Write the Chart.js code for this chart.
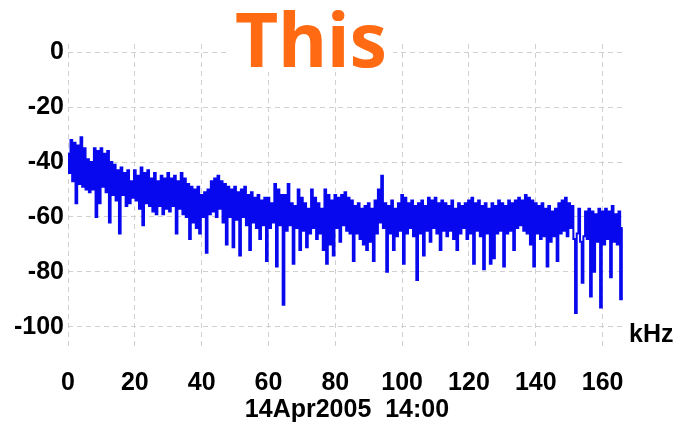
<!DOCTYPE html>
<html>
<head>
<meta charset="utf-8">
<script src="https://cdn.jsdelivr.net/npm/chart.js@4/dist/chart.umd.min.js"></script>
<style>
    html, body { margin: 0; padding: 0; background: #fff; }
    #wrap { width: 679px; height: 426px; }
</style>
</head>
<body>
<div id="wrap"><canvas id="spectrum"></canvas></div>
<script>
const titleText = 'This';
const dateText = '14Apr2005  14:00';
const unitText = 'kHz';

const binKHz = 0.5; // spacing of the spectrum bins
const xTicks = [0, 20, 40, 60, 80, 100, 120, 140, 160];
const yTicks = [-100, -90, -80, -70, -60, -50, -40, -30, -20, -10, 0];

// level in dB, one value per bin, split in 20 kHz blocks
const levels0to20 = [-37, -44, -32, -47, -33, -55, -34, -48, -31, -49, -35, -50, -39, -51, -40, -50, -35, -60, -36, -55,
    -35, -49, -37, -51, -36, -62, -40, -52, -41, -54, -43, -66, -42, -52, -44, -56, -43, -55, -47, -53];
const levels20to40 = [-43, -54, -45, -57, -42, -63, -44, -55, -43, -56, -46, -58, -44, -59, -47, -56, -45, -59, -46, -57,
    -44, -58, -46, -56, -45, -66, -47, -57, -44, -59, -46, -60, -48, -68, -49, -62, -50, -64, -49, -66];
const levels40to60 = [-52, -60, -51, -73, -50, -59, -47, -58, -46, -60, -45, -57, -47, -62, -48, -70, -49, -60, -50, -71,
    -49, -61, -51, -74, -50, -60, -49, -63, -52, -72, -51, -62, -53, -64, -52, -68, -54, -63, -53, -76];
const levels60to80 = [-53, -64, -55, -62, -48, -78, -50, -63, -52, -92, -52, -65, -48, -63, -55, -77, -56, -64, -50, -72,
    -53, -65, -55, -71, -57, -66, -50, -64, -53, -68, -55, -66, -57, -72, -50, -77, -52, -70, -54, -74];
const levels80to100 = [-52, -64, -53, -69, -52, -63, -51, -65, -53, -66, -54, -76, -56, -66, -55, -68, -57, -70, -56, -72,
    -55, -69, -57, -76, -54, -66, -50, -62, -45, -64, -55, -80, -56, -66, -54, -72, -57, -67, -55, -65];
const levels100to120 = [-52, -77, -53, -66, -55, -64, -54, -67, -56, -83, -55, -66, -54, -74, -56, -65, -53, -69, -54, -64,
    -53, -66, -55, -72, -54, -65, -55, -67, -56, -65, -54, -68, -57, -72, -55, -66, -56, -64, -55, -68];
const levels120to140 = [-54, -66, -53, -77, -55, -65, -54, -67, -56, -79, -55, -66, -57, -77, -55, -75, -56, -66, -54, -65,
    -55, -78, -56, -66, -54, -65, -55, -72, -54, -64, -53, -63, -54, -65, -52, -66, -53, -70, -54, -78];
const levels140to160 = [-55, -66, -56, -68, -55, -67, -57, -78, -56, -69, -58, -67, -57, -76, -55, -66, -54, -65, -53, -67,
    -55, -64, -56, -68, -95, -66, -57, -69, -84, -67, -58, -68, -57, -89, -58, -80, -59, -69, -57, -93];
const levels160to166 = [-58, -70, -57, -68, -58, -82, -56, -69, -59, -70, -58, -90, -64];

const levels = [].concat(levels0to20, levels20to40, levels40to60, levels60to80, levels80to100,
    levels100to120, levels120to140, levels140to160, levels160to166);
const points = levels.map((db, i) => ({ x: i * binKHz, y: db }));

const labelFont = { family: '"Liberation Sans", Arial, sans-serif', size: 25, weight: 'bold' };
const gridColor = 'rgb(208,208,208)';

// big orange heading plus the unit label right of the plot
const extraText = {
    id: 'extraText',
    afterDraw(chart) {
        const ctx = chart.ctx;
        const area = chart.chartArea;
        const yScale = chart.scales.y;
        ctx.save();

        ctx.font = 'bold 75px "Noto Sans", sans-serif';
        const w = ctx.measureText(titleText).width;
        const cx = 311, base = 67;
        ctx.fillStyle = '#fff';
        ctx.fillRect(cx - w / 2 - 6, 0, w + 12, base + 5);
        ctx.fillStyle = '#ff6a12';
        ctx.textAlign = 'center';
        ctx.textBaseline = 'alphabetic';
        ctx.fillText(titleText, cx, base);

        ctx.font = 'bold 25px "Liberation Sans", Arial, sans-serif';
        ctx.fillStyle = '#000';
        ctx.textAlign = 'left';
        ctx.fillText(unitText, area.right + 3, yScale.getPixelForValue(-100) + 15);
        ctx.restore();
    }
};

new Chart(document.getElementById('spectrum'), {
    type: 'line',
    data: {
        datasets: [{
            data: points,
            borderColor: '#0808ee',
            borderWidth: 2,
            pointRadius: 0,
            stepped: 'middle', // analyser-style bins: flat tops joined by vertical edges
            fill: false
        }]
    },
    options: {
        responsive: true,
        maintainAspectRatio: false,
        animation: false,
        layout: { padding: { left: 0, right: 53, top: 44, bottom: 0 } },
        plugins: { legend: { display: false }, tooltip: { enabled: false } },
        scales: {
            x: {
                type: 'linear',
                min: 0,
                max: 167,
                afterBuildTicks: s => { s.ticks = xTicks.map(v => ({ value: v })); },
                afterFit: s => { s.height = 80; },
                grid: { color: gridColor, lineWidth: 1, drawTicks: false },
                border: { display: false, dash: [5, 4] },
                ticks: { color: '#000', font: labelFont, padding: 22, maxRotation: 0 },
                title: { display: true, text: dateText, color: '#000', font: labelFont, padding: { top: 0, bottom: 1 } }
            },
            y: {
                min: -107,
                max: 3,
                afterBuildTicks: s => { s.ticks = yTicks.map(v => ({ value: v })); },
                afterFit: s => { s.width = 68; },
                grid: { color: gridColor, lineWidth: 1, drawTicks: false },
                border: { display: false, dash: [5, 4] },
                ticks: {
                    color: '#000',
                    font: labelFont,
                    padding: 4,
                    callback: v => (v % 20 === 0 ? String(v) : '')
                }
            }
        }
    },
    plugins: [extraText]
});
</script>
</body>
</html>
